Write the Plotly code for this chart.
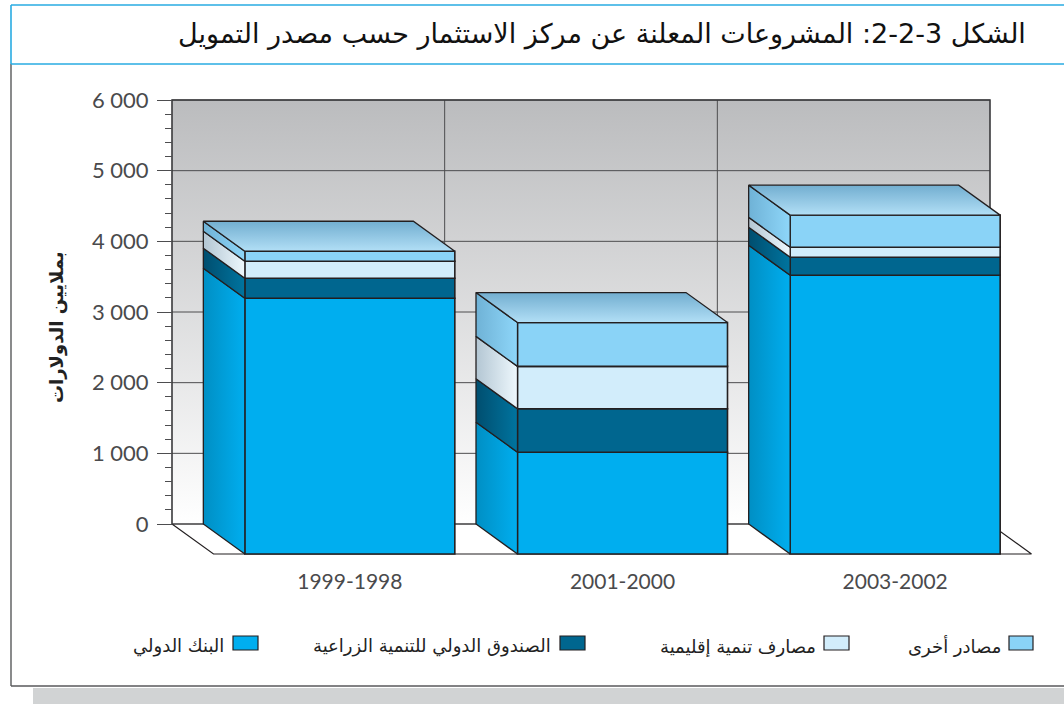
import plotly.graph_objects as go

# ---- data -----------------------------------------------------------
periods = ["1999-1998", "2001-2000", "2003-2002"]
world_bank = [3620, 1440, 3945]
ifad = [283, 615, 255]
regional_banks = [240, 600, 140]
other_sources = [141, 620, 455]

y_ticks = [0, 1000, 2000, 3000, 4000, 5000, 6000]
y_tick_labels = ["0", "1 000", "2 000", "3 000", "4 000", "5 000", "6 000"]

title_text = "الشكل 3-2-2: المشروعات المعلنة عن مركز الاستثمار حسب مصدر التمويل"
y_title = "بملايين الدولارات"
series_names = ["البنك الدولي", "الصندوق الدولي للتنمية الزراعية", "مصارف تنمية إقليمية", "مصادر أخرى"]

# ---- style / geometry ------------------------------------------------
W, H = 1064, 704
WALL_L, WALL_R, Y0_PX, Y6000_PX = 172, 990, 524, 100
PX_PER_X = (WALL_R - WALL_L) / 3
PX_PER_Y = (Y0_PX - Y6000_PX) / 6000
DX = 41.5 / PX_PER_X          # depth of the fake 3D in x units
DY = 30 / PX_PER_Y            # depth of the fake 3D in y units
BAR_W = 210 / PX_PER_X
EDGE = "#231f20"
TXT = "#4a4a4c"
LATIN = "Lato, 'Open Sans', sans-serif"
ARABIC = "'DejaVu Sans', sans-serif"

front = ["#00aeef", "#00668f", "#d2edfb", "#8ad3f7"]
side_l = ["#008fc4", "#004e6f", "#b3c6d3", "#6fb2d6"]
side_r = ["#00aeef", "#00749f", "#eef8fd", "#8ed6f9"]
series = [world_bank, ifad, regional_banks, other_sources]
xs = [0, 1, 2]

x_range = [-0.5 - WALL_L / PX_PER_X, -0.5 + (W - WALL_L) / PX_PER_X]
y_range = [-(H - Y0_PX) / PX_PER_Y, Y0_PX / PX_PER_Y]

fig = go.Figure()

# back wall
fig.add_trace(go.Scatter(
    x=[-0.5, 2.5, 2.5, -0.5, -0.5], y=[0, 0, 6000, 6000, 0], mode="none", fill="toself",
    fillgradient=dict(type="vertical", colorscale=[[0, "#ffffff"], [1, "#bbbcbe"]]),
    hoverinfo="skip", showlegend=False))
# floor
fig.add_trace(go.Scatter(
    x=[-0.5, 2.5, 2.5 + DX, -0.5 + DX, -0.5], y=[0, 0, -DY, -DY, 0], mode="lines", fill="toself",
    fillcolor="#ffffff", line=dict(color=EDGE, width=1.2), hoverinfo="skip", showlegend=False))
# grid
gx, gy = [], []
for v in y_ticks:
    gx += [-0.5, 2.5, None]
    gy += [v, v, None]
for xv in (0.5, 1.5):
    gx += [xv, xv, None]
    gy += [0, 6000, None]
fig.add_trace(go.Scatter(x=gx, y=gy, mode="lines", line=dict(color="#4d4d4f", width=1),
                         hoverinfo="skip", showlegend=False))
# wall outline
fig.add_trace(go.Scatter(x=[-0.5, -0.5, 2.5, 2.5], y=[0, 6000, 6000, 0], mode="lines",
                         line=dict(color="#3a3a3c", width=1.6), hoverinfo="skip", showlegend=False))

# stacked bars (front faces) with computed side/top faces
cum = [0, 0, 0]
for s, vals in enumerate(series):
    fig.add_trace(go.Bar(
        x=[x + DX for x in xs], y=vals, base=[c - DY for c in cum], width=BAR_W,
        name=series_names[s], marker=dict(color=front[s], line=dict(color=EDGE, width=1.6)),
        xaxis="x2", yaxis="y2", showlegend=False))
    for i, x in enumerate(xs):
        lo, hi = cum[i], cum[i] + vals[i]
        fl, bl = x + DX - BAR_W / 2, x - BAR_W / 2
        fig.add_trace(go.Scatter(
            x=[fl, fl, bl, bl, fl], y=[lo - DY, hi - DY, hi, lo, lo - DY], mode="lines", fill="toself",
            line=dict(color=EDGE, width=1.3),
            fillgradient=dict(type="horizontal", colorscale=[[0, side_l[s]], [1, side_r[s]]]),
            xaxis="x2", yaxis="y2", hoverinfo="skip", showlegend=False))
    cum = [c + v for c, v in zip(cum, vals)]

for i, x in enumerate(xs):
    fl, fr, bl, br = x + DX - BAR_W / 2, x + DX + BAR_W / 2, x - BAR_W / 2, x + BAR_W / 2
    fig.add_trace(go.Scatter(
        x=[fl, fr, br, bl, fl], y=[cum[i] - DY, cum[i] - DY, cum[i], cum[i], cum[i] - DY],
        mode="lines", fill="toself", line=dict(color=EDGE, width=1.3),
        fillgradient=dict(type="vertical", colorscale=[[0, "#b2dff6"], [1, "#72aed0"]]),
        xaxis="x2", yaxis="y2", hoverinfo="skip", showlegend=False))


def px(x):
    return x / W


def py(y):
    return 1 - y / H


def rect(x0, y0, x1, y1, **kw):
    return dict(type="rect", xref="paper", yref="paper", x0=px(x0), x1=px(x1), y0=py(y0), y1=py(y1), **kw)


def seg(x0, y0, x1, y1, color, width):
    return dict(type="line", xref="paper", yref="paper", x0=px(x0), x1=px(x1), y0=py(y0), y1=py(y1),
                line=dict(color=color, width=width))


shapes = [
    rect(33, 688, W, H, fillcolor="#d1d3d4", line=dict(width=0)),
    seg(11, 64, 11, 686, "#58595b", 1.4),
    seg(11, 686, W, 686, "#58595b", 1.6),
    seg(11, 5, W, 5, "#29abe2", 1.6),
    seg(11, 64, W, 64, "#29abe2", 1.6),
    seg(11, 5, 11, 64, "#29abe2", 1.6),
]
swatches = [(233, 258), (560, 585), (824, 849), (1009, 1033)]
text_right = [226, 553, 818, 1003]
annotations = [
    dict(text=title_text, x=px(1028), y=py(34), xref="paper", yref="paper", xanchor="right", yanchor="middle",
         showarrow=False, font=dict(family=ARABIC, size=27, color="#111111")),
    dict(text="<b>" + y_title + "</b>", x=px(57), y=py(327), xref="paper", yref="paper", textangle=-90,
         showarrow=False, xanchor="center", yanchor="middle", font=dict(family=ARABIC, size=18, color="#222222")),
]
for s, (a, b) in enumerate(swatches):
    shapes.append(rect(a, 636, b, 650, fillcolor=front[s], line=dict(color=EDGE, width=1.2)))
    annotations.append(dict(text=series_names[s], x=px(text_right[s]), y=py(646), xref="paper", yref="paper",
                            xanchor="right", yanchor="middle", showarrow=False,
                            font=dict(family=ARABIC, size=18, color="#222222")))

fig.update_layout(
    width=W, height=H, margin=dict(l=0, r=0, t=0, b=0), autosize=False,
    paper_bgcolor="#ffffff", plot_bgcolor="rgba(0,0,0,0)",
    barmode="overlay", showlegend=False, shapes=shapes, annotations=annotations,
    xaxis=dict(range=x_range, domain=[0, 1], showgrid=False, zeroline=False, showticklabels=False, ticks=""),
    yaxis=dict(range=y_range, domain=[0, 1], anchor="free", position=WALL_L / W, side="left",
               showgrid=False, zeroline=False, showline=False,
               tickmode="array", tickvals=y_ticks, ticktext=y_tick_labels, ticks="outside",
               ticklen=15, tickwidth=1, tickcolor="#4d4d4f", ticklabelstandoff=4,
               tickfont=dict(family=LATIN, size=22, color=TXT),
               minor=dict(tickmode="array", tickvals=[v for v in range(200, 6000, 200) if v % 1000],
                          ticks="outside", ticklen=7, tickwidth=1, tickcolor="#4d4d4f")),
    xaxis2=dict(range=x_range, domain=[0, 1], overlaying="x", anchor="free", position=1 - 567 / H, side="bottom",
                showgrid=False, zeroline=False, tickmode="array", tickvals=[x + DX for x in xs], ticktext=periods,
                ticks="", tickfont=dict(family=LATIN, size=21, color=TXT)),
    yaxis2=dict(range=y_range, domain=[0, 1], overlaying="y", visible=False),
)

fig.write_html("out.html", config={"displayModeBar": False}, post_script="document.body.style.margin='0';")
